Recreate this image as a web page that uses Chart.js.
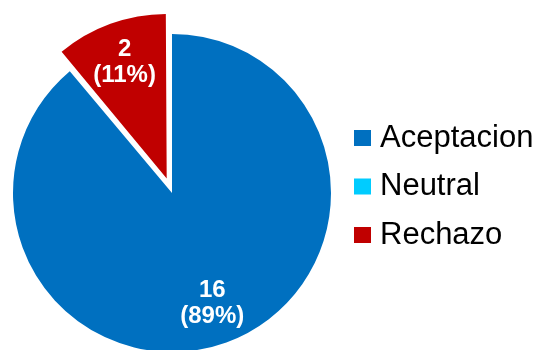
<!DOCTYPE html>
<html>
<head>
<meta charset="utf-8">
<script src="https://cdn.jsdelivr.net/npm/chart.js@4"></script>
<style>
  html, body { margin: 0; padding: 0; background: #fff; }
  #wrap { width: 540px; height: 350px; }
</style>
</head>
<body>
<div id="wrap"><canvas id="pieChart" width="540" height="350"></canvas></div>
<script>
const categories = ['Aceptacion', 'Neutral', 'Rechazo'];
const counts = [16, 0, 2];
const sliceColors = ['#0070C0', '#00CCFF', '#C00000'];
const sliceOffsets = [0, 0, 62]; // pull the Rechazo wedge out (~21px after Chart.js scaling)

const FONT = '"Liberation Sans", Arial, sans-serif';

// how far ArcElement actually shifts a wedge for a given offset option
function arcShift(offset, circumference) {
  const q = (offset || 0) / 4;
  const fix = 1 - Math.sin(Math.min(Math.PI, circumference || 0));
  return q + q * fix;
}

// white "n\n(p%)" labels inside each wedge
const wedgeLabels = {
  id: 'wedgeLabels',
  afterDatasetsDraw(chart) {
    const ctx = chart.ctx;
    const meta = chart.getDatasetMeta(0);
    const values = chart.data.datasets[0].data;
    const total = values.reduce((a, b) => a + b, 0);
    ctx.save();
    ctx.fillStyle = '#fff';
    ctx.font = 'bold 24px ' + FONT;
    ctx.textAlign = 'center';
    ctx.textBaseline = 'middle';
    meta.data.forEach((arc, i) => {
      const v = values[i];
      if (!v) return;
      const p = arc.getProps(['x', 'y', 'startAngle', 'endAngle', 'circumference', 'outerRadius']);
      const mid = (p.startAngle + p.endAngle) / 2;
      const dist = arcShift(arc.options.offset, p.circumference) + p.outerRadius * 0.74;
      const cx = p.x + Math.cos(mid) * dist;
      const cy = p.y + Math.sin(mid) * dist;
      const pct = Math.round(v / total * 100);
      ctx.fillText(String(v), cx, cy - 13);
      ctx.fillText('(' + pct + '%)', cx, cy + 13);
    });
    ctx.restore();
  }
};

// square swatch legend on the right
const sideLegend = {
  id: 'sideLegend',
  afterDraw(chart) {
    const ctx = chart.ctx;
    const colors = chart.data.datasets[0].backgroundColor;
    ctx.save();
    ctx.font = '31px ' + FONT;
    ctx.textAlign = 'left';
    ctx.textBaseline = 'alphabetic';
    chart.data.labels.forEach((label, i) => {
      const top = 130 + i * 48.5;
      ctx.fillStyle = colors[i];
      ctx.fillRect(354, top, 17, 16);
      ctx.fillStyle = '#000';
      ctx.fillText(label, 380, top + 16.5);
    });
    ctx.restore();
  }
};

new Chart(document.getElementById('pieChart'), {
  type: 'pie',
  data: {
    labels: categories,
    datasets: [{
      data: counts,
      backgroundColor: sliceColors,
      offset: sliceOffsets,
      borderWidth: 0,
      clip: false
    }]
  },
  options: {
    responsive: false,
    animation: false,
    radius: 159,
    layout: { padding: { left: 0, right: 196, top: 36, bottom: 0 } },
    plugins: {
      legend: { display: false },
      tooltip: { enabled: false }
    }
  },
  plugins: [wedgeLabels, sideLegend]
});
</script>
</body>
</html>
